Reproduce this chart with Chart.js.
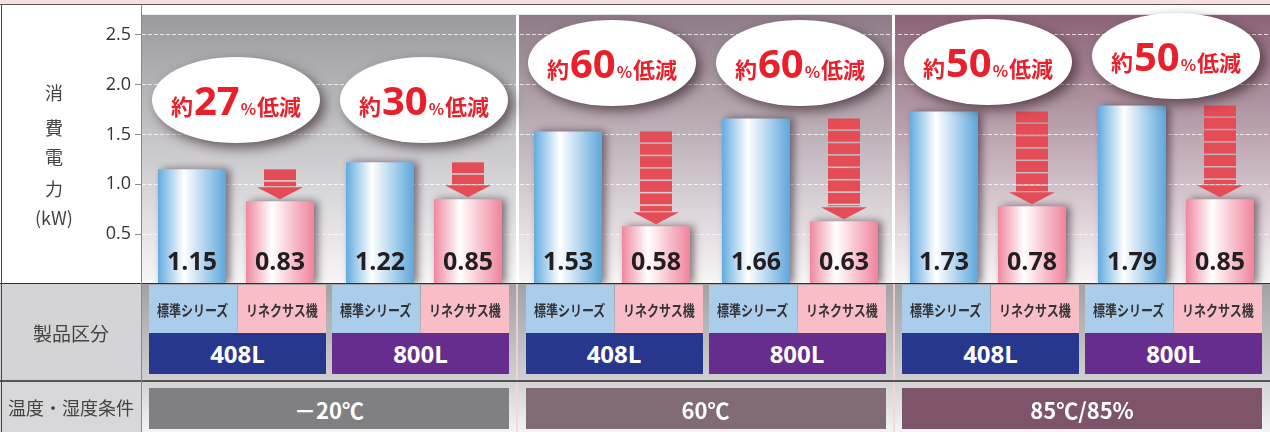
<!DOCTYPE html>
<html>
<head>
<meta charset="utf-8">
<script src="https://cdn.jsdelivr.net/npm/chart.js@4.4.0/dist/chart.umd.min.js"></script>
<style>
  body { margin: 0; background: #fff; }
  #wrap { position: relative; width: 1270px; height: 432px; overflow: hidden; font-family: "Noto Sans CJK JP", sans-serif; }
  .abs { position: absolute; box-sizing: border-box; }
  .c { display: flex; align-items: center; justify-content: center; white-space: nowrap; }
  canvas { position: absolute; left: 0; top: 0; }
  .prod span { display: inline-block; transform: scaleX(0.8); font-weight: 700; font-size: 15px; color: #333; }
  .size { color: #fff; font-family: "Open Sans", sans-serif; font-weight: 700; font-size: 24px; }
  .cond { color: #fff; font-weight: 700; font-size: 22px; }
  .ylab { color: #444; font-size: 18px; width: 60px; left: 24px; text-align: center; }
</style>
</head>
<body>
<div id="wrap">
  <!-- backgrounds behind the canvas -->
  <div class="abs" style="left:0;top:0;width:1270px;height:4px;background:#f9dfdf"></div>
  <div class="abs" style="left:0;top:4px;width:1270px;height:1px;background:#555"></div>
  <div class="abs" style="left:0;top:5px;width:142px;height:279px;background:#fff"></div>
  <canvas id="chart" width="1270" height="432"></canvas>
  <div id="table"></div>
</div>

<script>
const groups = ['408L', '800L', '408L', '800L', '408L', '800L'];
const standardValues = [1.15, 1.22, 1.53, 1.66, 1.73, 1.79];
const linexusValues = [0.83, 0.85, 0.58, 0.63, 0.78, 0.85];
const reductionPct = [27, 30, 60, 60, 50, 50];
const conditions = ['－20℃', '60℃', '85℃/85%'];
const productNames = ['標準シリーズ', 'リネクサス機'];
const yTicks = [0.5, 1.0, 1.5, 2.0, 2.5];
const yTitle = ['消', '費', '電', '力', '(kW)'];

const catPct = 0.936;
const barPct = 0.773;

function barGradient(ctx, stops) {
  const chart = ctx.chart;
  const xs = chart.scales.x;
  if (ctx.type !== 'data' || !xs) return stops[0];
  const slot = (xs.width / groups.length) * catPct / 2;
  const cx = xs.getPixelForValue(ctx.dataIndex) + (ctx.datasetIndex - 0.5) * slot;
  const w = slot * barPct;
  if (!isFinite(cx) || !isFinite(w) || w <= 0) return stops[0];
  const g = chart.ctx.createLinearGradient(cx - w / 2, 0, cx + w / 2, 0);
  g.addColorStop(0, stops[0]);
  g.addColorStop(0.38, '#ffffff');
  g.addColorStop(1, stops[1]);
  return g;
}

const panelTops = ['#9b9b9f', '#8f7b88', '#8c6378'];
const bubbleY = [100, 100, 63, 63, 62, 56];

const decor = {
  id: 'decor',
  beforeDraw(chart) {
    const { ctx, chartArea: a } = chart;
    const step = (a.right - a.left) / 3;
    ctx.save();
    panelTops.forEach((col, p) => {
      const g = ctx.createLinearGradient(0, a.top, 0, a.bottom);
      g.addColorStop(0, col);
      g.addColorStop(1, '#f8f6f7');
      ctx.fillStyle = g;
      ctx.fillRect(a.left + p * step, a.top, step, a.bottom - a.top);
    });
    ctx.fillStyle = '#ffffff';
    for (let p = 1; p < 3; p++) ctx.fillRect(a.left + p * step - 2, a.top, 3, a.bottom - a.top);
    ctx.restore();
  },
  beforeDatasetsDraw(chart) {
    const ctx = chart.ctx;
    ctx.save();
    ctx.shadowColor = 'rgba(40,20,30,0.55)';
    ctx.shadowBlur = 8;
    ctx.shadowOffsetX = 4;
    ctx.shadowOffsetY = 0;
  },
  afterDatasetsDraw(chart) {
    const ctx = chart.ctx;
    ctx.restore();
    const a = chart.chartArea;
    const sMeta = chart.getDatasetMeta(0);
    const lMeta = chart.getDatasetMeta(1);

    // arrows
    ctx.save();
    ctx.fillStyle = '#e44c56';
    lMeta.data.forEach((bar, i) => {
      const top = sMeta.data[i].y;
      const tip = bar.y - 2;
      const headH = 12, headW = 46, stripeW = 32, pitch = 12.4, gap = 1.6;
      const headTop = tip - headH;
      for (let y = top; y < headTop - 1; y += pitch) {
        const h = Math.min(pitch - gap, headTop - 1 - y);
        ctx.fillRect(bar.x - stripeW / 2, y, stripeW, h);
      }
      ctx.beginPath();
      ctx.moveTo(bar.x - headW / 2, headTop);
      ctx.lineTo(bar.x + headW / 2, headTop);
      ctx.lineTo(bar.x, tip);
      ctx.closePath();
      ctx.fill();
    });
    ctx.restore();

    // values inside bars
    ctx.save();
    ctx.font = 'bold 25px "Open Sans"';
    ctx.fillStyle = '#231f20';
    ctx.textAlign = 'center';
    ctx.textBaseline = 'middle';
    [sMeta, lMeta].forEach((meta, d) => {
      const vals = d === 0 ? standardValues : linexusValues;
      meta.data.forEach((bar, i) => ctx.fillText(vals[i].toFixed(2), bar.x, a.bottom - 21));
    });
    ctx.restore();

    // reduction bubbles
    sMeta.data.forEach((bar, i) => {
      const cx = (bar.x + lMeta.data[i].x) / 2;
      const cy = bubbleY[i];
      ctx.save();
      ctx.shadowColor = 'rgba(50,30,40,0.65)';
      ctx.shadowBlur = 12;
      ctx.shadowOffsetX = 5;
      ctx.shadowOffsetY = 5;
      ctx.fillStyle = '#ffffff';
      ctx.beginPath();
      ctx.ellipse(cx, cy, 84, 43, 0, 0, Math.PI * 2);
      ctx.fill();
      ctx.restore();

      const parts = [
        ['約', 'bold 22px "Noto Sans CJK JP"'],
        [String(reductionPct[i]), 'bold 40px "Open Sans"'],
        ['%', 'bold 16px "Noto Sans CJK JP"'],
        ['低減', 'bold 22px "Noto Sans CJK JP"']
      ];
      ctx.save();
      ctx.fillStyle = '#e8202b';
      ctx.textBaseline = 'alphabetic';
      ctx.textAlign = 'left';
      const sp = 1;
      let total = 0;
      const widths = parts.map(([t, f]) => { ctx.font = f; const w = ctx.measureText(t).width; total += w; return w; });
      total += sp * (parts.length - 1);
      let x = cx - total / 2;
      parts.forEach(([t, f], k) => {
        ctx.font = f;
        ctx.fillText(t, x, cy + 15);
        x += widths[k] + sp;
      });
      ctx.restore();
    });
  }
};

new Chart(document.getElementById('chart'), {
  type: 'bar',
  data: {
    labels: groups,
    datasets: [
      {
        label: productNames[0],
        data: standardValues,
        backgroundColor: (c) => barGradient(c, ['#62abdf', '#5ea7db']),
        categoryPercentage: catPct,
        barPercentage: barPct
      },
      {
        label: productNames[1],
        data: linexusValues,
        backgroundColor: (c) => barGradient(c, ['#f0879e', '#f0839b']),
        categoryPercentage: catPct,
        barPercentage: barPct
      }
    ]
  },
  options: {
    responsive: false,
    animation: false,
    layout: { padding: { top: 5, bottom: 148, left: 0, right: 0 } },
    plugins: { legend: { display: false }, tooltip: { enabled: false } },
    scales: {
      x: { display: false },
      y: {
        min: 0,
        max: 2.7,
        afterFit(s) { s.width = 142; },
        afterBuildTicks(s) { s.ticks = yTicks.map(v => ({ value: v })); },
        ticks: {
          callback: (v) => Number(v).toFixed(1),
          font: { family: 'Open Sans', size: 18 },
          color: '#333',
          padding: 4
        },
        grid: {
          color: 'rgba(255,255,255,0.75)',
          lineWidth: 1,
          tickLength: 7,
          tickColor: '#8a8a8a',
          tickBorderDash: []
        },
        border: { display: false, dash: [4, 2] }
      }
    }
  },
  plugins: [decor]
});

// lower table and axis title as HTML
const table = document.getElementById('table');
function box(style, cls, text) {
  const d = document.createElement('div');
  d.className = 'abs ' + (cls || '');
  d.setAttribute('style', style);
  if (text !== undefined) d.innerHTML = text;
  table.appendChild(d);
  return d;
}

box('left:0;top:284px;width:142px;height:97px;background:#d4d4d6');
box('left:0;top:381px;width:142px;height:51px;background:#d8d8da');
box('left:142px;top:284px;width:1128px;height:97px;background:linear-gradient(#a2a2a4,#d0d0d2)');
box('left:142px;top:381px;width:1128px;height:51px;background:linear-gradient(#d2d2d4,#f4f4f6)');
[516, 893].forEach(x => box('left:' + x + 'px;top:284px;width:2px;height:148px;background:rgba(250,210,210,0.8)'));

box('left:0;top:284px;width:142px;height:97px;font-size:19px;color:#444', 'c', '製品区分');
box('left:0;top:382px;width:142px;height:50px;font-size:18px;color:#444', 'c', '温度・湿度条件');

groups.forEach((name, g) => {
  const L = 149 + 376.5 * Math.floor(g / 2) + 183 * (g % 2);
  box('left:' + L + 'px;top:285px;width:88px;height:48px;background:#abcdec', 'c prod', '<span>' + productNames[0] + '</span>');
  box('left:' + (L + 89) + 'px;top:285px;width:88px;height:48px;background:#f8bdc7', 'c prod', '<span>' + productNames[1] + '</span>');
  box('left:' + L + 'px;top:333px;width:177px;height:41px;background:' + (name === '408L' ? '#27378e' : '#662d8f'), 'c size', name);
});

const condColors = ['#808083', '#806b77', '#7d5469'];
conditions.forEach((t, p) => {
  const L = 149 + 376.5 * p;
  box('left:' + L + 'px;top:388px;width:360px;height:41px;background:' + condColors[p], 'c cond', t);
});

// frame lines
box('left:0;top:283px;width:1270px;height:1px;background:#333');
box('left:0;top:380px;width:1270px;height:2px;background:#555');
box('left:141px;top:5px;width:1px;height:427px;background:#888');
box('left:1px;top:5px;width:1px;height:427px;background:#444');

const titleY = [92, 127, 156, 188, 217];
yTitle.forEach((t, k) => box('top:' + (titleY[k] - 13) + 'px;height:26px;line-height:26px', 'ylab', t));
</script>
</body>
</html>
